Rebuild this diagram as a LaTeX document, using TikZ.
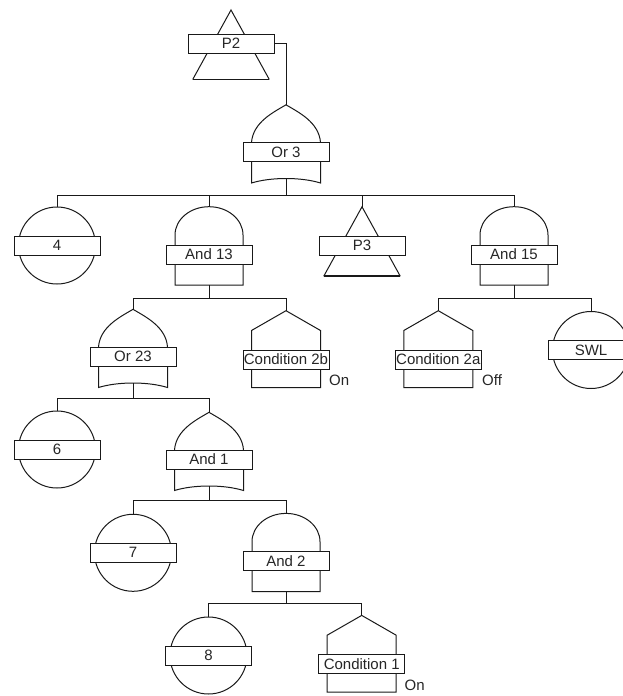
\documentclass[tikz,border=0pt]{standalone}
\usepackage{fontspec}
\setmainfont{Liberation Sans}
\begin{document}
\begin{tikzpicture}[x=1pt,y=1pt,
  ln/.style={line width=1pt, draw=black!90},
  thick base/.style={line width=1.9pt, draw=black!90},
  lab/.style={draw=black!90, line width=1pt, fill=white, minimum width=86pt,
    minimum height=19pt, inner sep=0pt, font=\fontsize{15}{17}\selectfont, text=black!85},
  note/.style={font=\fontsize{15}{17}\selectfont, text=black!85, inner sep=0pt, anchor=west},
  pics/basicev/.style={code={
    \draw[ln] (0,0) circle (38.5pt);
    \node[lab] (-lab) at (0,0) {#1};
    \coordinate (-top) at (0,38.5);
  }},
  pics/andgate/.style={code={
    \draw[ln] (-34,-30.5) -- (-34,19.5)
      arc[start angle=180, end angle=0, x radius=34pt, y radius=28.3pt]
      -- (34,-30.5) -- cycle;
    \node[lab] (-lab) at (0,0) {#1};
    \coordinate (-top) at (0,47.8);
    \coordinate (-bot) at (0,-30.5);
  }},
  pics/orgate/.style={code={
    \draw[ln] (-34.5,9.5) .. controls (-33,30) and (-12,40) .. (0,47.2)
      .. controls (12,40) and (33,30) .. (34.5,9.5);
    \draw[ln] (-34.5,9.5) -- (-34.5,-31)
      .. controls (-15,-25) and (15,-25) .. (34.5,-31) -- (34.5,9.5);
    \node[lab] (-lab) at (0,0) {#1};
    \coordinate (-top) at (0,47.2);
    \coordinate (-bot) at (0,-26.5);
  }},
  pics/condgate/.style={code={
    \draw[ln] (-34.5,-28) -- (-34.5,29) -- (0,48.8) -- (34.5,29) -- (34.5,-28) -- cycle;
    \node[lab] (-lab) at (0,0) {#1};
    \coordinate (-top) at (0,48.8);
  }},
  pics/transfer/.style 2 args={code={
    \draw[ln] (-38.3,{#2-69.5}) -- (0,#2) -- (38.3,{#2-69.5});
    \draw[thick base] (-38.3,{#2-69.5}) -- (38.3,{#2-69.5});
    \node[lab] (-lab) at (0,0) {#1};
    \coordinate (-top) at (0,#2);
  }}
]
\useasboundingbox (0,0) rectangle (623,-696);

% nodes
\pic (p2)    at (231,-43.5)  {transfer={P2}{33.5}};
\pic (or3)   at (286,-152)   {orgate={Or 3}};
\pic (ev4)   at (57,-245.5)  {basicev={4}};
\pic (and13) at (209,-254.5) {andgate={And 13}};
\pic (p3)    at (362,-245.8) {transfer={P3}{39}};
\pic (and15) at (514,-254.5) {andgate={And 15}};
\pic (or23)  at (133,-356.5) {orgate={Or 23}};
\pic (c2b)   at (286,-359.5) {condgate={Condition 2b}};
\pic (c2a)   at (438.3,-359.5) {condgate={Condition 2a}};
\pic (swl)   at (591,-350)   {basicev={SWL}};
\pic (ev6)   at (57,-449.5)  {basicev={6}};
\pic (and1)  at (209,-459.5) {orgate={And 1}};
\pic (ev7)   at (133,-552.8) {basicev={7}};
\pic (and2)  at (286,-561.2) {andgate={And 2}};
\pic (ev8)   at (208.5,-655.5) {basicev={8}};
\pic (c1)    at (361.7,-664.2) {condgate={Condition 1}};

\node[note] (on2b) at (329,-380.5) {On};
\node[note] (off2a) at (482,-380.5) {Off};
\node[note] (on1) at (404.5,-685) {On};

% buses
\coordinate (b1) at (0,-195);
\coordinate (b2) at (0,-298.3);
\coordinate (b3) at (0,-398.3);
\coordinate (b4) at (0,-500);
\coordinate (b5) at (0,-603.3);

% connectors
\draw[ln] (p2-lab.east) -| (or3-top);
\foreach \c in {ev4,and13,p3,and15}
  \draw[ln] (or3-bot) -- (or3-bot |- b1) -| (\c-top);
\foreach \c in {or23,c2b}
  \draw[ln] (and13-bot) -- (and13-bot |- b2) -| (\c-top);
\foreach \c in {c2a,swl}
  \draw[ln] (and15-bot) -- (and15-bot |- b2) -| (\c-top);
\foreach \c in {ev6,and1}
  \draw[ln] (or23-bot) -- (or23-bot |- b3) -| (\c-top);
\foreach \c in {ev7,and2}
  \draw[ln] (and1-bot) -- (and1-bot |- b4) -| (\c-top);
\foreach \c in {ev8,c1}
  \draw[ln] (and2-bot) -- (and2-bot |- b5) -| (\c-top);
\end{tikzpicture}
\end{document}
